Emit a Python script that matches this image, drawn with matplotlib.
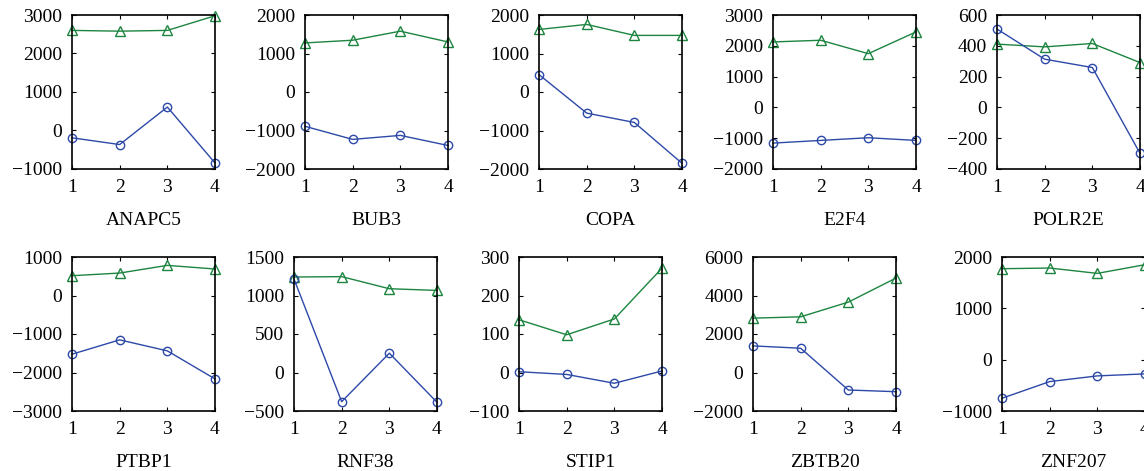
import numpy as np
import matplotlib
matplotlib.use('Agg')
import matplotlib.pyplot as plt

# Data
genes = ["ANAPC5", "BUB3", "COPA", "E2F4", "POLR2E",
         "PTBP1", "RNF38", "STIP1", "ZBTB20", "ZNF207"]
x = [1, 2, 3, 4]
green = {
    "ANAPC5": [2600, 2580, 2600, 2980],
    "BUB3":   [1275, 1345, 1580, 1300],
    "COPA":   [1625, 1755, 1470, 1470],
    "E2F4":   [2125, 2180, 1745, 2450],
    "POLR2E": [411, 393, 415, 291],
    "PTBP1":  [514, 583, 783, 688],
    "RNF38":  [1240, 1245, 1088, 1066],
    "STIP1":  [137, 98, 139, 271],
    "ZBTB20": [2823, 2892, 3656, 4906],
    "ZNF207": [1772, 1785, 1681, 1850],
}
blue = {
    "ANAPC5": [-190, -365, 609, -843],
    "BUB3":   [-891, -1231, -1127, -1389],
    "COPA":   [452, -548, -791, -1852],
    "E2F4":   [-1159, -1072, -985, -1072],
    "POLR2E": [509, 313, 259, -298],
    "PTBP1":  [-1525, -1152, -1438, -2167],
    "RNF38":  [1214, -379, 251, -387],
    "STIP1":  [2, -5, -28, 4],
    "ZBTB20": [1382, 1260, -910, -997],
    "ZNF207": [-752, -427, -316, -277],
}
yticks = {
    "ANAPC5": [-1000, 0, 1000, 2000, 3000],
    "BUB3":   [-2000, -1000, 0, 1000, 2000],
    "COPA":   [-2000, -1000, 0, 1000, 2000],
    "E2F4":   [-2000, -1000, 0, 1000, 2000, 3000],
    "POLR2E": [-400, -200, 0, 200, 400, 600],
    "PTBP1":  [-3000, -2000, -1000, 0, 1000],
    "RNF38":  [-500, 0, 500, 1000, 1500],
    "STIP1":  [-100, 0, 100, 200, 300],
    "ZBTB20": [-2000, 0, 2000, 4000, 6000],
    "ZNF207": [-1000, 0, 1000, 2000],
}

plt.rcParams['font.family'] = ['Liberation Serif', 'DejaVu Serif']
plt.rcParams['font.size'] = 14

W, H = 1144, 471
fig = plt.figure(figsize=(W/100, H/100), dpi=100)

# axes boxes in pixels (left, top, width, height)
lefts = [[72, 305, 539, 773, 997], [72, 294, 519, 753, 1002]]
tops = [15, 257]
aw, ah = 143, 154

blue_c = '#2d49a8'
green_c = '#1c8540'

for i, g in enumerate(genes):
    r, c = divmod(i, 5)
    l = lefts[r][c]
    t = tops[r]
    ax = fig.add_axes([l/W, 1 - (t+ah)/H, aw/W, ah/H])
    ax.plot(x, green[g], color=green_c, lw=1, marker='^', ms=6.5,
            mfc='none', mec=green_c, mew=1, clip_on=False)
    ax.plot(x, blue[g], color=blue_c, lw=1, marker='o', ms=6,
            mfc='none', mec=blue_c, mew=1, clip_on=False)
    yt = yticks[g]
    ax.set_ylim(yt[0], yt[-1])
    ax.set_yticks(yt)
    ax.set_xlim(1, 4)
    ax.set_xticks(x)
    ax.tick_params(direction='in', top=True, right=True, length=3,
                   width=0.8, labelsize=14, pad=7)
    for s in ax.spines.values():
        s.set_linewidth(1.2)
    ax.set_xlabel(g, fontsize=14, labelpad=12)

plt.savefig('out.png', dpi=100)
